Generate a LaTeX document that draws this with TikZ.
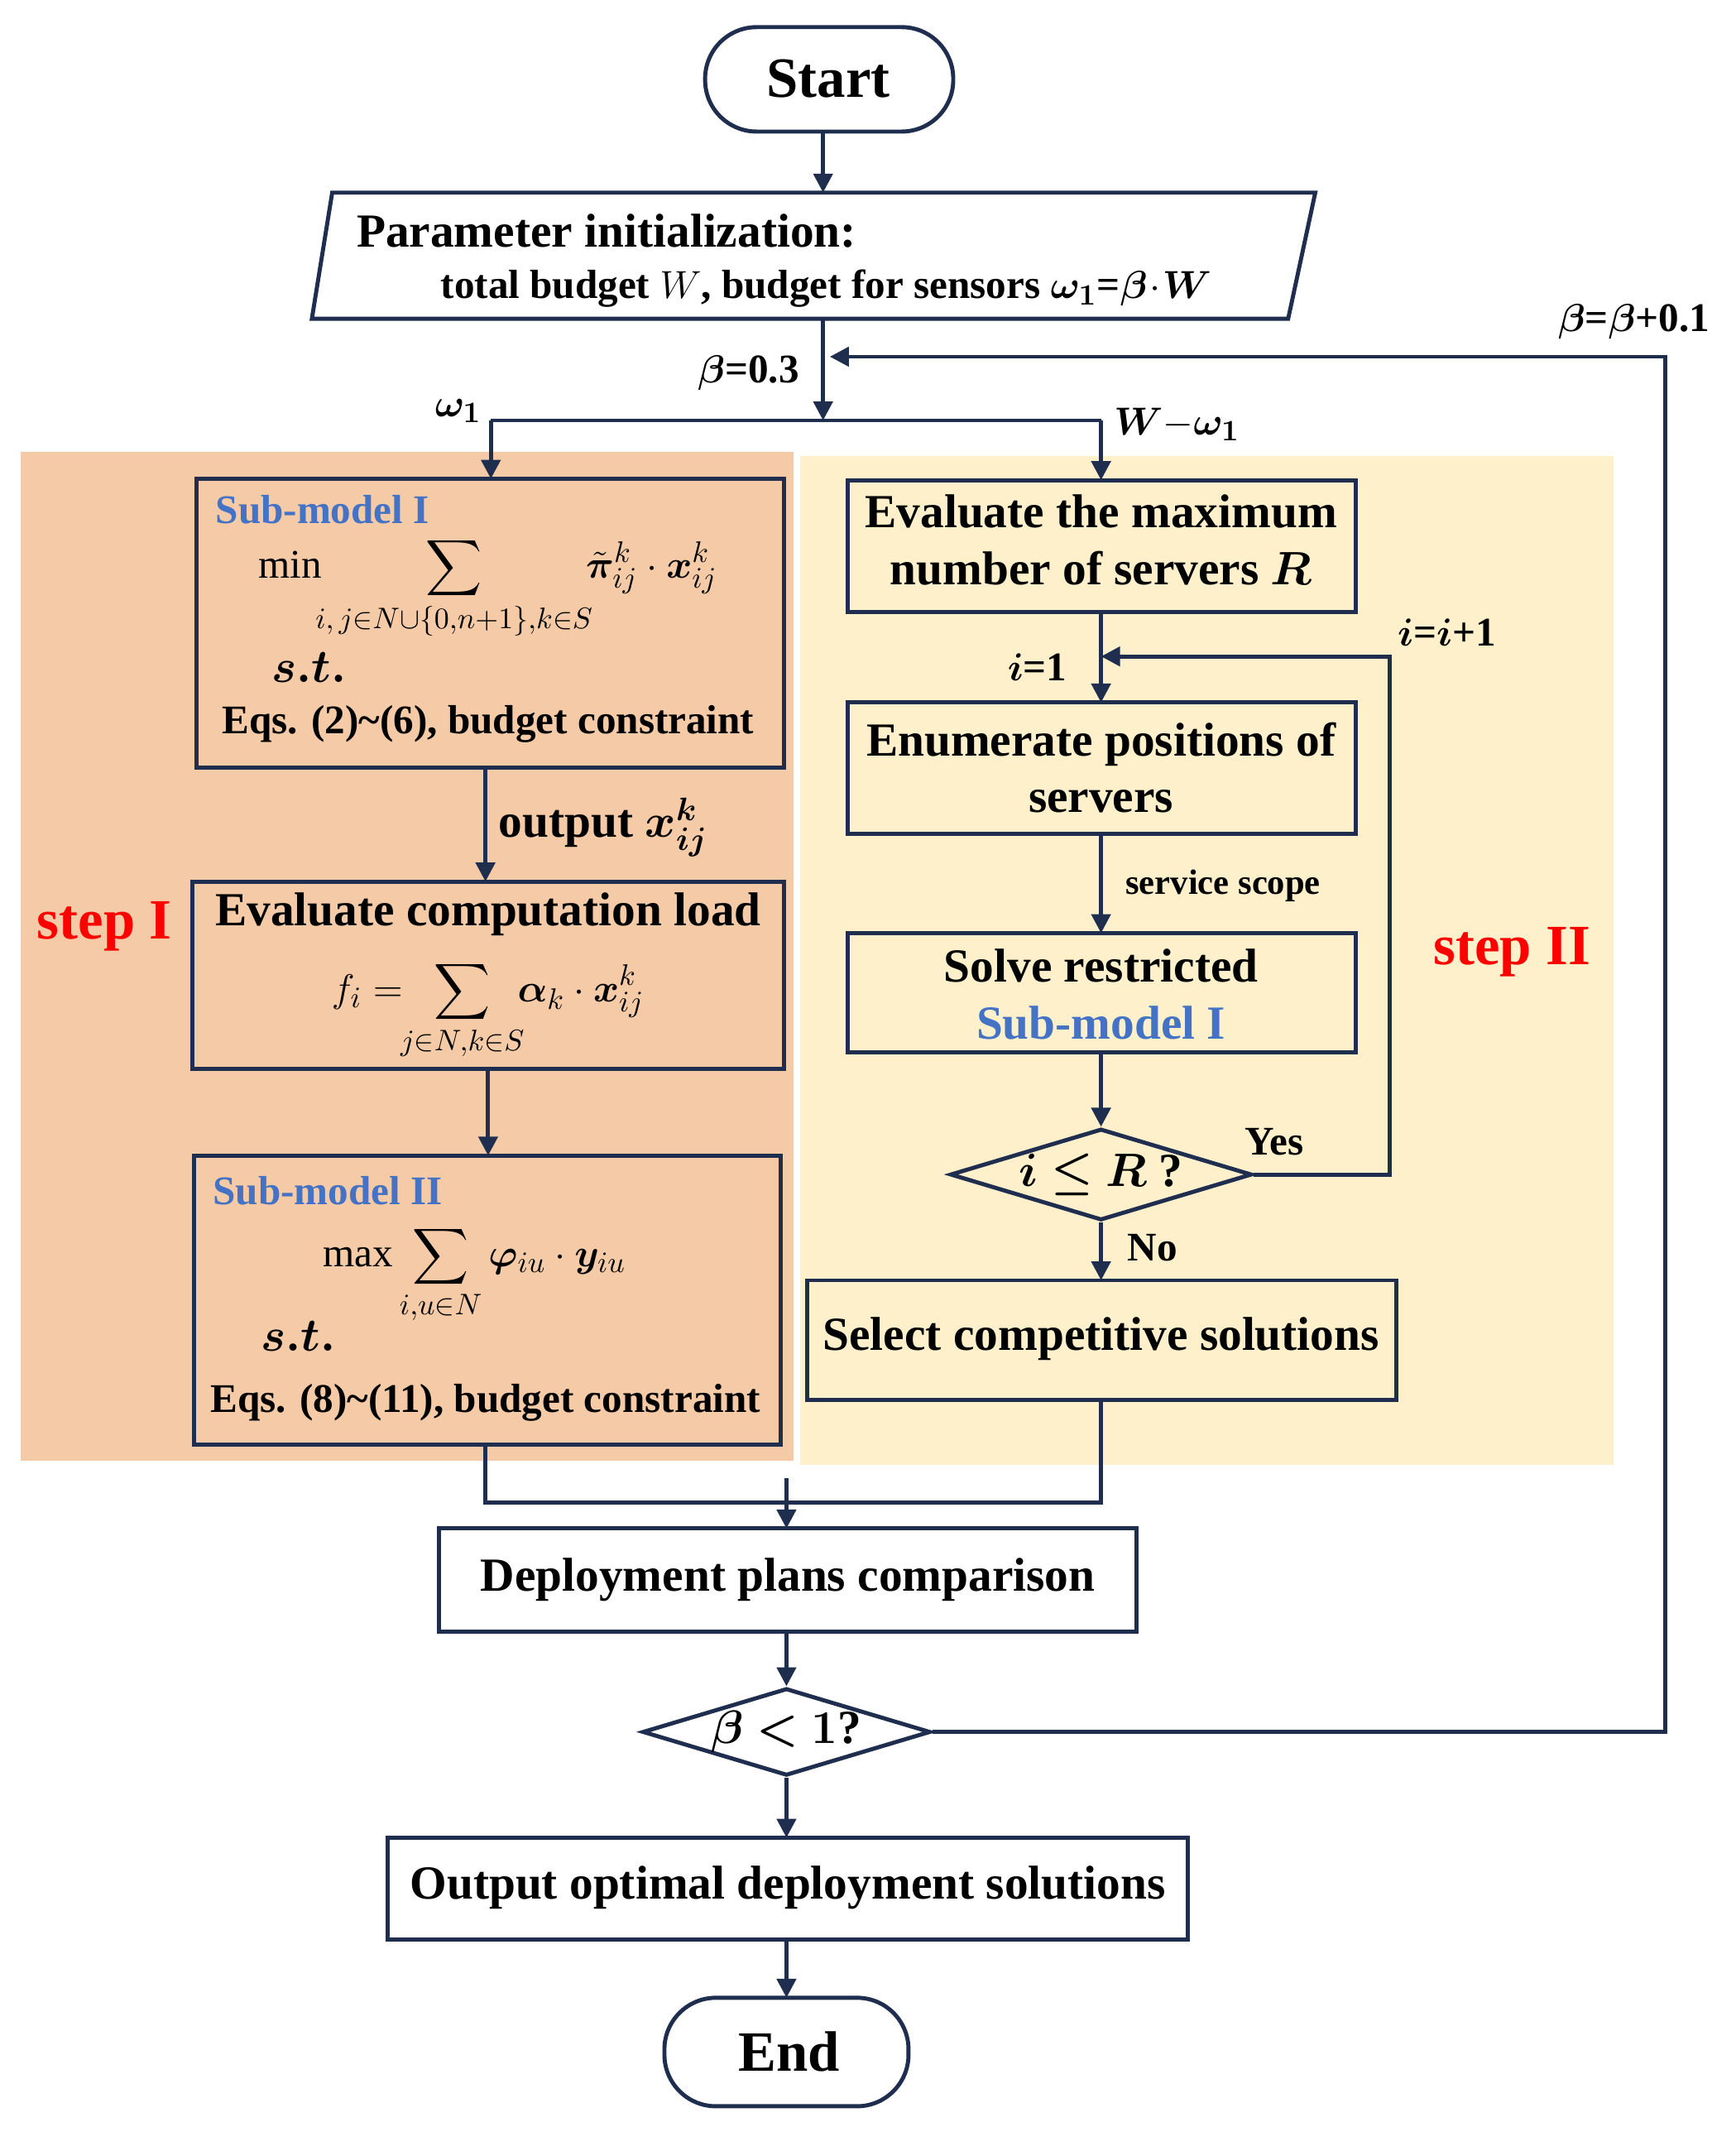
\documentclass[tikz,border=0pt]{standalone}
\usepackage{amsmath,bm}
\usepackage{fontspec}
\setmainfont{Liberation Serif}
\usetikzlibrary{shapes.geometric,arrows.meta}
\definecolor{ln}{HTML}{1F2D4F}
\definecolor{orr}{HTML}{F5CBA7}
\definecolor{yel}{HTML}{FFF0CC}
\definecolor{bl}{HTML}{4472C4}
\begin{document}
\begin{tikzpicture}[x=0.5pt,y=-0.5pt,
  every node/.style={font=\fontsize{17.5}{21}\selectfont\bfseries,text=black},
  bx/.style={draw=ln,line width=1.5pt},
  ar/.style={draw=ln,line width=1.5pt,-{Triangle[length=7pt,width=7pt]}},
  ln/.style={draw=ln,line width=1.5pt},
  fm/.style={font=\fontsize{15}{17}\selectfont\bfseries},
  lab/.style={font=\fontsize{15}{17}\selectfont\bfseries}]
\useasboundingbox (0,0) rectangle (1280,1586);
\fill[orr] (15,333) rectangle (585,1077);
\fill[yel] (590,336) rectangle (1190,1080);
% start
\draw[bx,rounded corners=19pt] (520,20) rectangle (703,97);
\node (start) at (611,58) {\fontsize{21}{24}\selectfont Start};
\coordinate (startb) at (607,97);
% param
\draw[bx] (245,142) -- (970,142) -- (950,235) -- (230,235) -- cycle;
\node[anchor=west] at (256,170) {Parameter initialization:};
\node[anchor=west,lab] at (318,213) {total budget $W$, budget for sensors $\bm{\omega_1}$=$\bm{\beta}\!\cdot\!\bm{W}$};
\coordinate (pt) at (607,142); \coordinate (pb) at (607,235);
\draw[ar] (startb) -- (pt);
\draw[ar] (pb) -- (607,310);
\node[lab] at (552,275) {$\bm\beta$=0.3};
\coordinate (bl1) at (362,310); \coordinate (br1) at (812,310);
\draw[ln] (bl1) -- (br1);
\node[lab] at (338,303) {$\bm{\omega_1}$};
\node[lab] at (868,313) {$\bm{W}$$-$$\bm{\omega_1}$};
% sub-model I
\draw[bx] (145,353) rectangle (578,566);
\node[anchor=west,text=bl,lab] at (152,376) {Sub-model I};
\node[fm] at (360,434) {$\displaystyle \min\!\!\sum_{i,\,j\in N\cup\{0,n+1\},k\in S}\!\!\tilde{\bm\pi}_{ij}^{k}\cdot \bm{x}_{ij}^{k}$};
\node at (228,492) {$\bm{s.t.}$};
\node[lab] at (360,534) {Eqs. (2)\textasciitilde(6), budget constraint};
\draw[ar] (bl1) -- (362,353);
% computation load
\draw[bx] (142,650) rectangle (578,788);
\node at (360,674) {Evaluate computation load};
\node[fm] at (360,745) {$\displaystyle f_i=\!\!\sum_{j\in N,k\in S}\!\!\bm\alpha_k\cdot \bm{x}_{ij}^{k}$};
\draw[ar] (358,566) -- (358,650);
\node at (445,610) {output $\bm{x}_{\bm{ij}}^{\bm{k}}$};
% sub-model II
\draw[bx] (143,852) rectangle (576,1065);
\node[anchor=west,text=bl,lab] at (150,878) {Sub-model II};
\node[fm] at (350,940) {$\displaystyle \max\sum_{i,u\in N}\bm\varphi_{iu}\cdot \bm{y}_{iu}$};
\node at (220,985) {$\bm{s.t.}$};
\node[lab] at (358,1034) {Eqs. (8)\textasciitilde(11), budget constraint};
\draw[ar] (360,788) -- (360,852);
% right column
\draw[bx] (625,354) rectangle (1000,451);
\node[align=center] at (812,398) {Evaluate the maximum\\number of servers $\bm R$};
\draw[ar] (br1) -- (812,354);
\draw[bx] (625,518) rectangle (1000,615);
\node[align=center] at (812,566) {Enumerate positions of\\servers};
\draw[ar] (812,451) -- (812,518);
\node[lab] at (765,492) {$\bm i$=1};
\draw[bx] (625,688) rectangle (1000,776);
\node[align=center] at (812,733) {Solve restricted\\\textcolor{bl}{Sub-model I}};
\draw[ar] (812,615) -- (812,688);
\node[font=\fontsize{13}{15}\selectfont\bfseries] at (902,653) {service scope};
\node[draw=ln,line width=1.5pt,diamond,aspect=3.3,minimum width=105pt,minimum height=32pt,inner sep=0pt] (d1) at (812,866) {$\bm{i\le R}$ ?};
\draw[ar] (812,776) -- (d1.north);
\draw[ar] (d1.east) -- (1025,866) -- (1025,484) -- (812,484);
\node[lab] at (940,842) {Yes};
\node[lab] at (1067,466) {$\bm i$=$\bm i$+1};
\draw[bx] (595,944) rectangle (1030,1032);
\node at (812,987) {Select competitive solutions};
\draw[ar] (d1.south) -- (812,944);
\node[lab] at (850,920) {No};
% merge
\draw[ln] (358,1065) -- (358,1108) -- (812,1108) -- (812,1032);
\draw[ar] (580,1090) -- (580,1127);
\draw[bx] (324,1127) rectangle (838,1203);
\node at (581,1165) {Deployment plans comparison};
\node[draw=ln,line width=1.5pt,diamond,aspect=3.3,minimum width=105pt,minimum height=32pt,inner sep=0pt] (d2) at (580,1277) {$\bm{\beta<1}$?};
\draw[ar] (580,1203) -- (d2.north);
\draw[ar] (d2.east) -- (1228,1277) -- (1228,263) -- (612,263);
\node[lab] at (1205,237) {$\bm\beta$=$\bm\beta$+0.1};
\draw[bx] (286,1355) rectangle (876,1430);
\node at (581,1392) {Output optimal deployment solutions};
\draw[ar] (d2.south) -- (580,1355);
\draw[bx,rounded corners=19pt] (490,1473) rectangle (670,1553);
\node (end) at (582,1513) {\fontsize{21}{24}\selectfont End};
\draw[ar] (580,1430) -- (580,1473);
\node[text=red,font=\fontsize{21}{24}\selectfont\bfseries] at (77,683) {step I};
\node[text=red,font=\fontsize{21}{24}\selectfont\bfseries] at (1115,702) {step II};
\end{tikzpicture}
\end{document}
